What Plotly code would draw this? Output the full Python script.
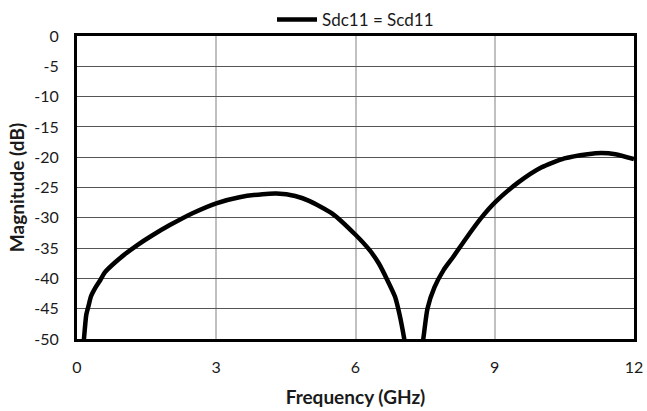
import plotly.graph_objects as go

freq_ghz = [0.12, 0.15, 0.2, 0.25, 0.3, 0.4, 0.5, 0.6, 0.8, 1.0, 1.3, 1.6, 2.0, 2.5, 3.0, 3.5,
            4.0, 4.3, 4.7, 5.0, 5.5, 6.0, 6.3, 6.5, 6.7, 6.85, 6.95, 7.05, 7.15, 7.25,
            7.35, 7.46, 7.55, 7.7, 7.9, 8.1, 8.4, 8.7, 9.0, 9.5, 10.0, 10.5, 11.0, 11.3,
            11.6, 12.0]
sdc11_db = [-53, -50, -46, -44.5, -43, -41.5, -40.3, -39, -37.5, -36.2, -34.5, -33, -31.2,
            -29.2, -27.6, -26.6, -26.1, -26.0, -26.4, -27.2, -29.3, -32.8, -35.3, -37.5,
            -40.5, -43, -46, -50, -55, -60, -55, -50, -45, -41.5, -38.6, -36.5, -33.2,
            -30.1, -27.5, -24.2, -21.7, -20.2, -19.5, -19.3, -19.5, -20.3]

x_ticks = [0, 3, 6, 9, 12]
y_ticks = [0, -5, -10, -15, -20, -25, -30, -35, -40, -45, -50]

font_family = "Lato, Open Sans, sans-serif"

fig = go.Figure()
fig.add_trace(go.Scatter(
    x=freq_ghz, y=sdc11_db, mode="lines", name="Sdc11 = Scd11",
    line=dict(color="black", width=4.5, shape="spline", smoothing=0.6),
))

fig.update_layout(
    width=647, height=411,
    margin=dict(l=77, r=13, t=36, b=72, autoexpand=False),
    paper_bgcolor="white", plot_bgcolor="white",
    font=dict(family=font_family, size=16, color="#1a1a1a"),
    showlegend=True,
    legend=dict(orientation="h", x=0.5, xanchor="center", y=1.053, yanchor="middle",
                font=dict(size=17, color="#1a1a1a"), bgcolor="rgba(0,0,0,0)",
                itemwidth=40),
    xaxis=dict(
        range=[0, 12], tickvals=x_ticks, ticktext=[str(v) for v in x_ticks],
        showgrid=True, gridcolor="#c0c0c0", gridwidth=1.5,
        showline=True, linecolor="black", linewidth=3, mirror=True,
        zeroline=False, ticks="", ticklabelstandoff=12, automargin=False,
        title=dict(text="<b>Frequency (GHz)</b>", font=dict(size=19, color="#1a1a1a"), standoff=16),
    ),
    yaxis=dict(
        range=[-50, 0], tickvals=y_ticks, ticktext=[str(v) for v in y_ticks],
        showgrid=True, gridcolor="#555555", gridwidth=1.2,
        showline=True, linecolor="black", linewidth=3, mirror=True,
        zeroline=False, ticks="", ticklabelstandoff=12, automargin=False,
        title=dict(text="<b>Magnitude (dB)</b>", font=dict(size=19, color="#1a1a1a"), standoff=5),
    ),
)

fig.write_html("out.html")
